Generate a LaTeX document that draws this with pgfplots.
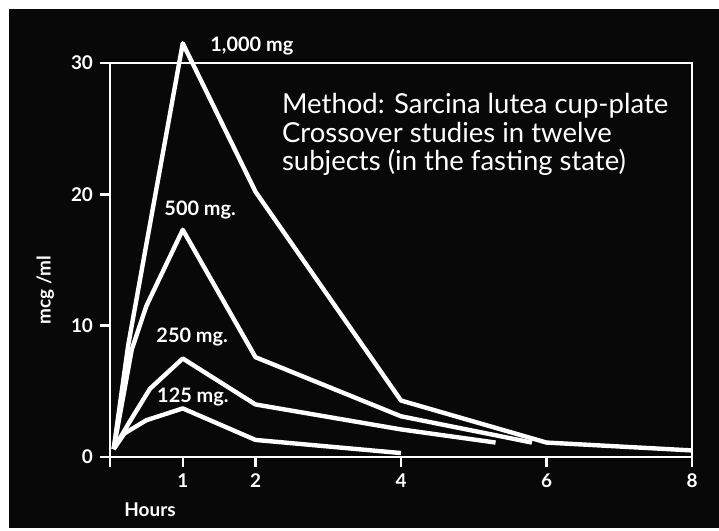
\documentclass[border=0pt]{standalone}
\usepackage{pgfplots}
\pgfplotsset{compat=1.18}
\usepackage{fontspec}
\setmainfont{Lato}
\begin{document}
\begin{tikzpicture}
\fill[white] (-55bp,-37bp) rectangle (304.5bp,228.5bp);
\useasboundingbox (-55bp,-37bp) rectangle (304.5bp,228.5bp);
\fill[black!97] (-50.5bp,-35.5bp) rectangle (304.5bp,224bp);
\begin{axis}[
  at={(0,0)}, anchor=south west,
  scale only axis, width=291bp, height=197bp,
  xmin=0, xmax=8, ymin=0, ymax=30,
  axis line style={white, line width=1.2bp},
  xtick={0,1,2,4,6,8}, xticklabels={,1,2,4,6,8},
  ytick={0,10,20,30},
  xtick pos=bottom, ytick pos=left,
  tick style={white, line width=1.2bp},
  tick align=outside, major tick length=5bp,
  ticklabel style={white, font=\fontsize{9.5}{10}\selectfont\bfseries},
  /pgf/number format/assume math mode=true,
  clip=false,
]
% 1,000 mg
\addplot[white, line width=2.2bp, line join=round] coordinates {(0.05,0.6) (0.25,8.5) (0.5,16.2) (1,31.5) (2,20.2) (4,4.3) (6,1.1) (8,0.5)};
% 500 mg
\addplot[white, line width=2.2bp, line join=round] coordinates {(0.05,0.6) (0.3,8.2) (0.5,11.5) (1,17.3) (2,7.6) (4,3.1) (5.8,1.1)};
% 250 mg
\addplot[white, line width=2.2bp, line join=round] coordinates {(0.05,0.6) (0.25,2.5) (0.55,5.2) (1,7.5) (2,4.0) (4,2.1) (5.3,1.1)};
% 125 mg
\addplot[white, line width=2.2bp, line join=round] coordinates {(0.05,0.6) (0.2,1.8) (0.5,2.8) (1,3.7) (2,1.3) (4,0.3)};

\node[white, font=\fontsize{10}{11}\selectfont\bfseries] at (axis cs:1.95,31.3) {1,000 mg};
\node[white, font=\fontsize{10}{11}\selectfont\bfseries] at (axis cs:1.24,18.8) {500 mg.};
\node[white, font=\fontsize{10}{11}\selectfont\bfseries] at (axis cs:1.13,9.1) {250 mg.};
\node[white, font=\fontsize{10}{11}\selectfont\bfseries] at (axis cs:1.14,4.6) {125 mg.};
\node[white, anchor=north west, align=left, inner sep=0pt, font=\fontsize{13.8}{14.3}\selectfont] at (axis cs:2.36,27.7)
  {Method: Sarcina lutea cup-plate\\Crossover studies in twelve\\subjects (in the fasting state)};
\node[white, font=\fontsize{9.5}{10}\selectfont\bfseries] at (axis cs:0.55,-4.0) {Hours};
\node[white, rotate=90, font=\fontsize{9.5}{10}\selectfont\bfseries] at (axis cs:-0.89,12.7) {mcg /ml};
\end{axis}
\end{tikzpicture}
\end{document}
